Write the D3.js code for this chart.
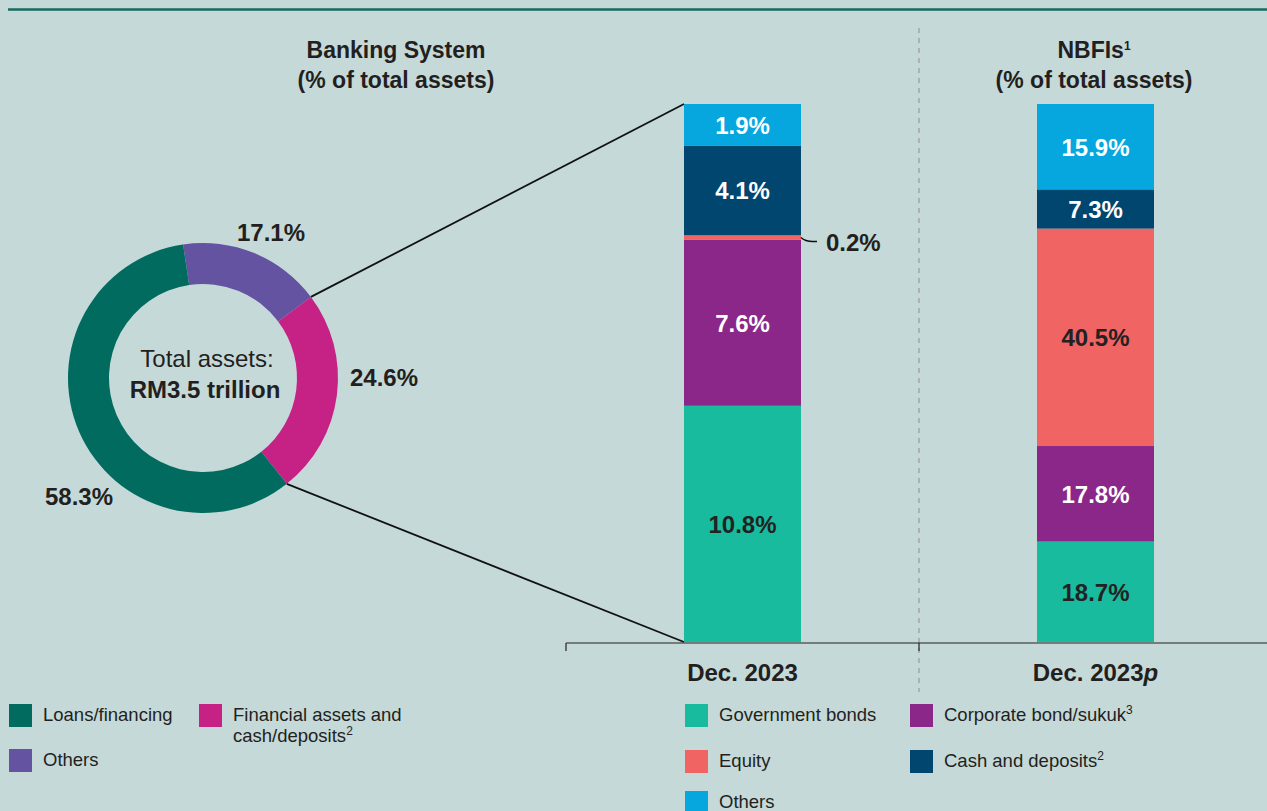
<!DOCTYPE html>
<html>
<head>
<meta charset="utf-8">
<script src="https://cdn.jsdelivr.net/npm/d3@7"></script>
<style>
  body { margin: 0; background: #c5d9d8; }
  svg { display: block; font-family: "Liberation Sans", Arial, sans-serif; }
</style>
</head>
<body>
<div id="chart"></div>
<script>
// banking system donut
var donutLabels = ["Others", "Financial assets and cash/deposits", "Loans/financing"];
var donutValues = [17.1, 24.6, 58.3];
var donutColors = ["#6353a0", "#c62286", "#006b5e"];

// stacked bars
var barCategories = ["Dec. 2023", "Dec. 2023p"];
var stackKeys = ["Government bonds", "Corporate bond/sukuk", "Equity", "Cash and deposits", "Others"];
var stackColors = ["#18bb9e", "#8b2789", "#f06464", "#00466e", "#06a6df"];
var bankingBar = [10.8, 7.6, 0.2, 4.1, 1.9];
var nbfiBar = [18.7, 17.8, 40.5, 7.3, 15.9];
var labelDark = ["#222", "#fff", "#fff", "#fff", "#fff"];
var nbfiLabelDark = ["#222", "#fff", "#222", "#fff", "#fff"];

var W = 1267, H = 811;
var svg = d3.select("#chart").append("svg")
  .attr("width", W)
  .attr("height", H);

svg.append("rect").attr("width", W).attr("height", H).attr("fill", "#c5d9d8");

// top rule
svg.append("line")
  .attr("x1", 8).attr("x2", W)
  .attr("y1", 9.5).attr("y2", 9.5)
  .attr("stroke", "#146b61")
  .attr("stroke-width", 2.5);

// titles
function title(x, lines) {
  var t = svg.append("text")
    .attr("x", x)
    .attr("text-anchor", "middle")
    .style("font-size", "23px")
    .style("font-weight", "bold")
    .style("fill", "#231f20");
  t.append("tspan").attr("x", x).attr("y", 58).text(lines[0]);
  if (lines[0] == "NBFIs") {
    t.select("tspan").append("tspan").attr("dy", -8).style("font-size", "12px").text("1");
  }
  t.append("tspan").attr("x", x).attr("y", 88).text(lines[1]);
}
title(396, ["Banking System", "(% of total assets)"]);
title(1094, ["NBFIs", "(% of total assets)"]);

// donut
var cx = 203, cy = 378, rOut = 135, rIn = 94;
var pie = d3.pie().sort(null).startAngle(-0.148).endAngle(-0.148 + 2 * Math.PI);
var arcs = pie(donutValues);
var arc = d3.arc().innerRadius(rIn).outerRadius(rOut);

var donut = svg.append("g").attr("transform", "translate(" + cx + "," + cy + ")");
donut.selectAll("path")
  .data(arcs)
  .enter().append("path")
  .attr("d", arc)
  .attr("fill", function (d, i) { return donutColors[i]; });

// donut value labels
var labelPos = [[271, 241], [384, 386], [79, 505]];
svg.selectAll(".donut-label")
  .data(arcs)
  .enter().append("text")
  .attr("class", "donut-label")
  .attr("x", function (d, i) { return labelPos[i][0]; })
  .attr("y", function (d, i) { return labelPos[i][1]; })
  .attr("text-anchor", "middle")
  .style("font-size", "24px")
  .style("font-weight", "bold")
  .style("fill", "#231f20")
  .text(function (d) { return d.data.toFixed(1) + "%"; });

svg.append("text")
  .attr("x", 207).attr("y", 367)
  .attr("text-anchor", "middle")
  .style("font-size", "24px")
  .style("fill", "#231f20")
  .text("Total assets:");
svg.append("text")
  .attr("x", 205).attr("y", 398)
  .attr("text-anchor", "middle")
  .style("font-size", "24px")
  .style("font-weight", "bold")
  .style("fill", "#231f20")
  .text("RM3.5 trillion");

// bar scales
var barTop = 104, barBottom = 642, barW = 117;
var x = d3.scaleBand().domain(barCategories).range([566, 1272]);

var bars = [bankingBar, nbfiBar];
var darks = [labelDark, nbfiLabelDark];

// connector lines from the financial assets slice to the banking bar
var fin = arcs[1];
var p0 = [cx + rOut * Math.sin(fin.startAngle), cy - rOut * Math.cos(fin.startAngle)];
var p1 = [cx + rOut * Math.sin(fin.endAngle), cy - rOut * Math.cos(fin.endAngle)];
var bx0 = x(barCategories[0]) + x.bandwidth() / 2 - barW / 2;
svg.append("line")
  .attr("x1", p0[0]).attr("y1", p0[1])
  .attr("x2", bx0).attr("y2", barTop)
  .attr("stroke", "#111").attr("stroke-width", 1.8);
svg.append("line")
  .attr("x1", p1[0]).attr("y1", p1[1])
  .attr("x2", bx0).attr("y2", barBottom)
  .attr("stroke", "#111").attr("stroke-width", 1.8);

bars.forEach(function (vals, bi) {
  var total = d3.sum(vals);
  var y = d3.scaleLinear().domain([0, total]).range([barBottom, barTop]);
  var cum = 0;
  var segs = vals.map(function (v, i) {
    var s = {key: stackKeys[i], v: v, y0: cum, y1: cum + v, i: i};
    cum += v;
    return s;
  });
  var bx = x(barCategories[bi]) + x.bandwidth() / 2 - barW / 2;
  var g = svg.append("g");
  g.selectAll("rect")
    .data(segs)
    .enter().append("rect")
    .attr("x", bx)
    .attr("width", barW)
    .attr("y", function (d) { return y(d.y1); })
    .attr("height", function (d) { return y(d.y0) - y(d.y1); })
    .attr("fill", function (d) { return stackColors[d.i]; });

  g.selectAll("text")
    .data(segs.filter(function (d) { return d.v >= 1; }))
    .enter().append("text")
    .attr("x", bx + barW / 2)
    .attr("y", function (d) { return (y(d.y0) + y(d.y1)) / 2 + 9; })
    .attr("text-anchor", "middle")
    .style("font-size", "24px")
    .style("font-weight", "bold")
    .style("fill", function (d) { return darks[bi][d.i]; })
    .text(function (d) { return d.v.toFixed(1) + "%"; });

  // small segment gets a callout
  segs.filter(function (d) { return d.v < 1; }).forEach(function (d) {
    var my = (y(d.y0) + y(d.y1)) / 2;
    var ex = bx + barW;
    g.append("path")
      .attr("d", "M" + ex + "," + my + " Q" + (ex + 4) + "," + (my + 4) + " " + (ex + 12) + "," + (my + 4) + " L" + (ex + 16) + "," + (my + 4))
      .attr("fill", "none")
      .attr("stroke", "#111")
      .attr("stroke-width", 1.5);
    g.append("text")
      .attr("x", ex + 25)
      .attr("y", my + 14)
      .style("font-size", "24px")
      .style("font-weight", "bold")
      .style("fill", "#231f20")
      .text(d.v.toFixed(1) + "%");
  });
});

// dashed divider between panels
var divX = x(barCategories[1]);
svg.append("line")
  .attr("x1", divX).attr("x2", divX)
  .attr("y1", 28).attr("y2", 692)
  .attr("stroke", "#8c8c8c")
  .attr("stroke-width", 1)
  .attr("stroke-dasharray", "5,5");

// x axis
var axis = svg.append("g")
  .attr("transform", "translate(0," + (barBottom + 1) + ")")
  .call(d3.axisBottom(x).tickSize(0).tickPadding(21));
axis.select(".domain").remove();
axis.selectAll("text")
  .style("font-family", "Liberation Sans, Arial, sans-serif")
  .style("font-size", "24px")
  .style("font-weight", "bold")
  .style("fill", "#231f20")
  .text(null)
  .each(function (d) {
    var t = d3.select(this);
    if (d.slice(-1) == "p") {
      t.append("tspan").text(d.slice(0, -1));
      t.append("tspan").style("font-style", "italic").text("p");
    } else {
      t.text(d);
    }
  });
axis.append("line")
  .attr("x1", x.range()[0]).attr("x2", W)
  .attr("y1", 0).attr("y2", 0)
  .attr("stroke", "#222").attr("stroke-width", 1.2);
axis.selectAll(".edge")
  .data(barCategories)
  .enter().append("line")
  .attr("class", "edge")
  .attr("x1", function (d) { return x(d); })
  .attr("x2", function (d) { return x(d); })
  .attr("y1", 0).attr("y2", 8)
  .attr("stroke", "#222").attr("stroke-width", 1.2);

// legends
function legend(items, colors) {
  items.forEach(function (it) {
    svg.append("rect")
      .attr("x", it.x).attr("y", it.y)
      .attr("width", 23).attr("height", 23)
      .attr("fill", colors[it.c]);
    var t = svg.append("text")
      .attr("x", it.x + 34)
      .attr("y", it.y + 17)
      .style("font-size", "18.5px")
      .style("fill", "#231f20");
    it.lines.forEach(function (ln, k) {
      t.append("tspan").attr("x", it.x + 34).attr("dy", k == 0 ? 0 : 21).text(ln);
      if (k == it.lines.length - 1 && it.sup) {
        t.append("tspan").attr("dy", -7).style("font-size", "12px").text(it.sup);
      }
    });
  });
}
legend([
  {x: 9, y: 704, c: 2, lines: ["Loans/financing"]},
  {x: 199, y: 704, c: 1, lines: ["Financial assets and", "cash/deposits"], sup: "2"},
  {x: 9, y: 749, c: 0, lines: ["Others"]}
], donutColors);
legend([
  {x: 685, y: 704, c: 0, lines: ["Government bonds"]},
  {x: 910, y: 704, c: 1, lines: ["Corporate bond/sukuk"], sup: "3"},
  {x: 685, y: 750, c: 2, lines: ["Equity"]},
  {x: 910, y: 750, c: 3, lines: ["Cash and deposits"], sup: "2"},
  {x: 685, y: 791, c: 4, lines: ["Others"]}
], stackColors);
</script>
</body>
</html>
